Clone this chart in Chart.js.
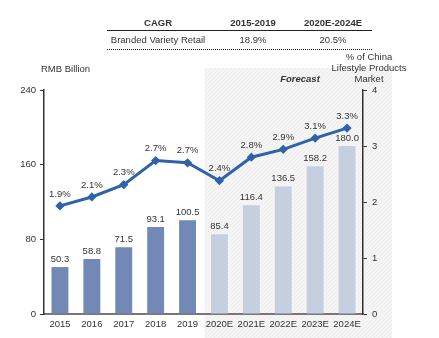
<!DOCTYPE html>
<html>
<head>
<meta charset="utf-8">
<script src="https://cdn.jsdelivr.net/npm/chart.js@4.4.1/dist/chart.umd.min.js"></script>
<style>
  html, body { margin: 0; padding: 0; background: #fff; }
  #wrap { position: relative; width: 439px; height: 338px; }
</style>
</head>
<body>
<div id="wrap"><canvas id="chart" width="439" height="338"></canvas></div>
<script>
const years = ['2015', '2016', '2017', '2018', '2019', '2020E', '2021E', '2022E', '2023E', '2024E'];
const retailValues = [50.3, 58.8, 71.5, 93.1, 100.5, 85.4, 116.4, 136.5, 158.2, 180.0];
const marketShare = [1.93, 2.09, 2.31, 2.74, 2.70, 2.38, 2.80, 2.94, 3.14, 3.32];
const leftTicks = [0, 80, 160, 240];
const rightTicks = [0, 1, 2, 3, 4];
const cagrHeader = ['CAGR', '2015-2019', '2020E-2024E'];
const cagrRow = ['Branded Variety Retail', '18.9%', '20.5%'];
const forecastStart = 5;

const FONT = '"Liberation Sans", Arial, sans-serif';
const FS = 9.5;
const TEXT = '#333';
const histColor = '#7189b4';
const foreColor = '#c5cfe0';

// hatched grey background for the forecast block
function makeHatch() {
    const c = document.createElement('canvas');
    c.width = 4; c.height = 4;
    const g = c.getContext('2d');
    g.fillStyle = '#f5f5f5';
    g.fillRect(0, 0, 4, 4);
    g.strokeStyle = '#ededed';
    g.lineWidth = 1;
    g.beginPath();
    g.moveTo(0, 4); g.lineTo(4, 0);
    g.stroke();
    return c;
}

const decorPlugin = {
    id: 'decor',
    beforeDraw(chart) {
        const ctx = chart.ctx;
        const x = chart.scales.x;
        const left = (x.getPixelForValue(forecastStart - 1) + x.getPixelForValue(forecastStart)) / 2 + 1;
        ctx.save();
        ctx.fillStyle = ctx.createPattern(makeHatch(), 'repeat');
        ctx.fillRect(left, 68, 392 - left, chart.height - 68);
        ctx.restore();
    },
    afterDatasetsDraw(chart) {
        const ctx = chart.ctx;
        ctx.save();
        ctx.fillStyle = TEXT;
        ctx.textAlign = 'center';
        ctx.textBaseline = 'middle';
        ctx.font = FS + 'px ' + FONT;
        chart.getDatasetMeta(0).data.forEach((bar, i) => {
            ctx.fillText(retailValues[i].toFixed(1), bar.x, bar.y - 8);
        });
        chart.getDatasetMeta(1).data.forEach((pt, i) => {
            ctx.fillText(marketShare[i].toFixed(1) + '%', pt.x, pt.y - 12);
        });

        // titles
        ctx.textAlign = 'left';
        ctx.fillText('RMB Billion', 41, 69);
        ctx.textAlign = 'center';
        ctx.fillText('% of China', 369, 57);
        ctx.fillText('Lifestyle Products', 369, 68);
        ctx.fillText('Market', 369, 79);
        ctx.font = 'italic bold ' + FS + 'px ' + FONT;
        ctx.fillText('Forecast', 300, 79);

        // CAGR table
        const cols = [158, 253, 333];
        ctx.font = 'bold ' + FS + 'px ' + FONT;
        cagrHeader.forEach((t, i) => ctx.fillText(t, cols[i], 23));
        ctx.font = FS + 'px ' + FONT;
        cagrRow.forEach((t, i) => ctx.fillText(t, cols[i], 40));
        ctx.strokeStyle = '#222';
        ctx.lineWidth = 1.2;
        ctx.beginPath();
        ctx.moveTo(107, 30.5); ctx.lineTo(372, 30.5);
        ctx.stroke();
        ctx.setLineDash([1, 1]);
        ctx.lineWidth = 1;
        ctx.beginPath();
        ctx.moveTo(107, 49.5); ctx.lineTo(372, 49.5);
        ctx.stroke();
        ctx.restore();
    }
};

const ctx = document.getElementById('chart').getContext('2d');
const chart = new Chart(ctx, {
    type: 'bar',
    data: {
        labels: years,
        datasets: [{
            type: 'bar',
            label: 'Branded Variety Retail',
            data: retailValues,
            backgroundColor: years.map((y, i) => i < forecastStart ? histColor : foreColor),
            borderWidth: 0,
            categoryPercentage: 1,
            barPercentage: 0.53,
            yAxisID: 'y',
            order: 2
        }, {
            type: 'line',
            label: '% of China Lifestyle Products Market',
            data: marketShare,
            borderColor: '#2f63a9',
            backgroundColor: '#2f63a9',
            borderWidth: 3,
            pointStyle: 'rectRot',
            pointRadius: 2.5,
            tension: 0,
            yAxisID: 'y1',
            order: 1
        }]
    },
    options: {
        responsive: false,
        animation: false,
        layout: { padding: { top: 90, left: 0, right: 0, bottom: 0 } },
        plugins: { legend: { display: false }, tooltip: { enabled: false } },
        scales: {
            x: {
                grid: { display: false, drawTicks: false },
                border: { display: true, color: '#777', width: 2 },
                ticks: { color: TEXT, font: { family: FONT, size: FS }, padding: 5, maxRotation: 0, autoSkip: false },
                afterFit(s) { s.height = 24; }
            },
            y: {
                position: 'left',
                min: 0, max: 240,
                afterBuildTicks(s) { s.ticks = leftTicks.map(v => ({ value: v })); },
                grid: { drawOnChartArea: false, drawTicks: true, tickLength: 4, color: '#333' },
                border: { display: true, color: '#333', width: 1.5 },
                ticks: { color: TEXT, font: { family: FONT, size: FS }, padding: 4 },
                afterFit(s) { s.width = 44; }
            },
            y1: {
                position: 'right',
                min: 0, max: 4,
                afterBuildTicks(s) { s.ticks = rightTicks.map(v => ({ value: v })); },
                grid: { drawOnChartArea: false, drawTicks: true, tickLength: 4, color: '#333' },
                border: { display: true, color: '#333', width: 1.5 },
                ticks: { color: TEXT, font: { family: FONT, size: FS }, padding: 5 },
                afterFit(s) { s.width = 76; }
            }
        }
    },
    plugins: [decorPlugin]
});
</script>
</body>
</html>
